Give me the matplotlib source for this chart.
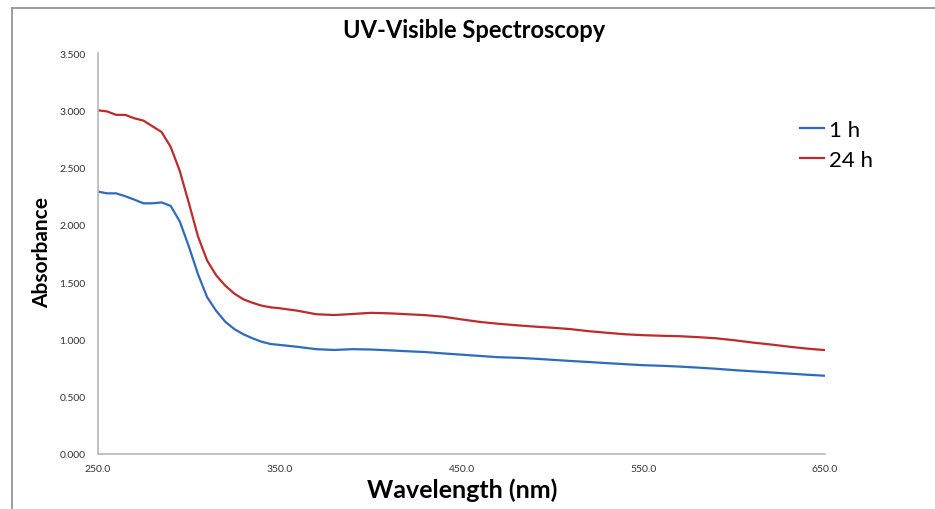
import matplotlib
matplotlib.use('Agg')
import matplotlib.pyplot as plt
from matplotlib.lines import Line2D

# wavelength grid (nm)
wavelength = [250, 255, 260, 265, 270, 275, 280, 285, 290, 295, 300, 305, 310, 315,
              320, 325, 330, 335, 340, 345, 350, 360, 370, 380, 390, 400, 410, 420,
              430, 440, 450, 460, 470, 480, 490, 500, 510, 520, 530, 540, 550, 560,
              570, 580, 590, 600, 610, 620, 630, 640, 650]

abs_1h = [2.290, 2.275, 2.275, 2.250, 2.220, 2.188, 2.188, 2.196, 2.165, 2.030, 1.810,
          1.570, 1.370, 1.250, 1.155, 1.090, 1.045, 1.010, 0.980, 0.960, 0.952, 0.935,
          0.915, 0.908, 0.915, 0.912, 0.905, 0.897, 0.890, 0.878, 0.867, 0.856, 0.845,
          0.840, 0.832, 0.822, 0.812, 0.803, 0.793, 0.784, 0.775, 0.770, 0.763, 0.754,
          0.744, 0.732, 0.722, 0.712, 0.702, 0.692, 0.683]

abs_24h = [3.000, 2.990, 2.960, 2.960, 2.930, 2.910, 2.860, 2.810, 2.680, 2.470, 2.190,
           1.900, 1.690, 1.560, 1.470, 1.400, 1.350, 1.320, 1.295, 1.280, 1.272, 1.250,
           1.220, 1.213, 1.222, 1.232, 1.228, 1.220, 1.212, 1.198, 1.175, 1.153, 1.137,
           1.124, 1.112, 1.102, 1.090, 1.072, 1.058, 1.045, 1.037, 1.032, 1.028, 1.020,
           1.010, 0.993, 0.973, 0.956, 0.937, 0.920, 0.907]

x_ticks = [250, 350, 450, 550, 650]
y_ticks = [0, 0.5, 1.0, 1.5, 2.0, 2.5, 3.0, 3.5]

plt.rcParams['font.family'] = ['Lato', 'DejaVu Sans']

fig = plt.figure(figsize=(9.35, 5.10), dpi=100)
ax = fig.add_axes([98 / 935, 1 - 455 / 510, 727 / 935, 401 / 510])

blue = '#2f6bbd'
red = '#bd2b2b'
ax.plot(wavelength, abs_1h, color=blue, lw=1.6)
ax.plot(wavelength, abs_24h, color=red, lw=1.6)

ax.set_xlim(250, 650)
ax.set_ylim(0, 3.5)
ax.set_xticks(x_ticks)
ax.set_xticklabels([f'{v:.1f}' for v in x_ticks])
ax.set_yticks(y_ticks)
ax.set_yticklabels([f'{v:.3f}' for v in y_ticks])
ax.tick_params(length=0, labelsize=7.5, colors='#333333', pad=9)
ax.tick_params(axis='x', pad=7)

for side in ['top', 'right']:
    ax.spines[side].set_visible(False)
for side in ['left', 'bottom']:
    ax.spines[side].set_color('#b8b8b8')
    ax.spines[side].set_linewidth(1.2)

fig.text(474 / 935, 1 - 30 / 510, 'UV-Visible Spectroscopy', ha='center', va='center',
         fontsize=17, fontweight='bold')
fig.text(462 / 935, 1 - 490 / 510, 'Wavelength (nm)', ha='center', va='center',
         fontsize=18, fontweight='bold')
fig.text(42 / 935, 1 - 253 / 510, 'Absorbance', ha='center', va='center',
         rotation=90, fontsize=15, fontweight='bold')

handles = [Line2D([], [], color=blue, lw=1.6), Line2D([], [], color=red, lw=1.6)]
fig.legend(handles, ['1 h', '24 h'], loc='upper left', bbox_to_anchor=(780 / 935, 1 - 101 / 510),
           frameon=False, fontsize=16, handlelength=1.1, handletextpad=0.2, labelspacing=0.45)

# partial frame of the original screenshot
fig.add_artist(Line2D([12 / 935, 1], [1 - 9 / 510, 1 - 9 / 510], color='#8c8c8c', lw=1.2))
fig.add_artist(Line2D([12 / 935, 12 / 935], [0, 1 - 9 / 510], color='#8c8c8c', lw=1.2))

fig.savefig('out.png', dpi=100)
plt.close(fig)
